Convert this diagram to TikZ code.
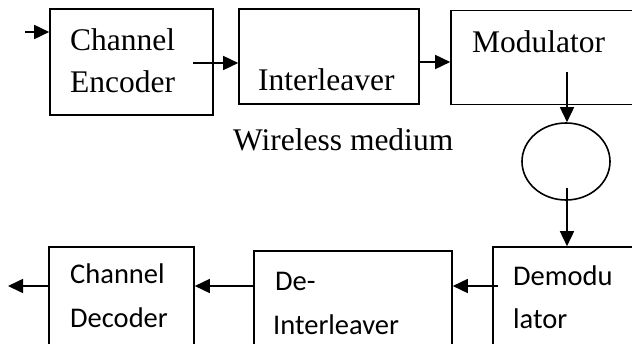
\documentclass[tikz,border=0pt]{standalone}
\usepackage{fontspec}
\setmainfont{Liberation Serif}
\newfontfamily\bodysans{Carlito}
\usetikzlibrary{arrows.meta,shapes.geometric}
\begin{document}
\begin{tikzpicture}[x=1pt,y=-1pt,
  blk/.style={draw,line width=1.6pt,rectangle,inner sep=0pt},
  arr/.style={line width=1.6pt,-{Triangle[length=15pt,width=14pt]}},
  serif/.style={anchor=base west,inner sep=0pt,font=\fontsize{31.5}{38}\selectfont},
  sans/.style={anchor=base west,inner sep=0pt,font=\bodysans\fontsize{28.5}{34}\selectfont}]
\useasboundingbox (0,0) rectangle (632,343);
\clip (0,0) rectangle (632,343);

% transmitter chain
\node[blk,minimum width=163pt,minimum height=106pt] (enc) at (131.5,62) {};
\node[blk,minimum width=180pt,minimum height=95pt] (intl) at (329,56.5) {};
\node[blk,minimum width=210pt,minimum height=94pt] (mod) at (556,57.5) {};
\node[serif] (encA) at (70,50) {Channel};
\node[serif] (encB) at (70,92) {Encoder};
\node[serif] (intlT) at (258,90) {Interleaver};
\node[serif] (modT) at (472,52) {Modulator};

% channel
\node[draw,line width=1.6pt,ellipse,minimum width=88pt,minimum height=77pt,inner sep=0pt] (chan) at (566,161.5) {};
\node[serif] (wm) at (233,150) {Wireless medium};

% receiver chain
\node[blk,minimum width=170pt,minimum height=120pt] (dem) at (578,307) {};
\node[blk,minimum width=198pt,minimum height=120pt] (deint) at (353,311) {};
\node[blk,minimum width=145pt,minimum height=120pt] (dec) at (121.5,307) {};
\node[sans] (demA) at (513,285) {Demodu};
\node[sans] (demB) at (513,328) {lator};
\node[sans] (deintA) at (275,290) {De-};
\node[sans] (deintB) at (273,334) {Interleaver};
\node[sans] (decA) at (70,283) {Channel};
\node[sans] (decB) at (70,327) {Decoder};

% free ends of the connectors
\coordinate (src) at (25,32);
\coordinate (e1) at (193,63);
\coordinate (i1) at (419,62);
\coordinate (m1) at (567,72);
\coordinate (c1) at (567,188);
\coordinate (d1) at (498,286);
\coordinate (sink) at (8,286);

\draw[arr] (src) -- (src -| enc.west);
\draw[arr] (e1) -- (e1 -| intl.west);
\draw[arr] (i1) -- (i1 -| mod.west);
\draw[arr] (m1) -- (m1 |- chan.north);
\draw[arr] (c1) -- (c1 |- dem.north);
\draw[arr] (d1) -- (d1 -| deint.east);
\draw[arr] (d1 -| deint.west) -- (d1 -| dec.east);
\draw[arr] (d1 -| dec.west) -- (sink);
\end{tikzpicture}
\end{document}
